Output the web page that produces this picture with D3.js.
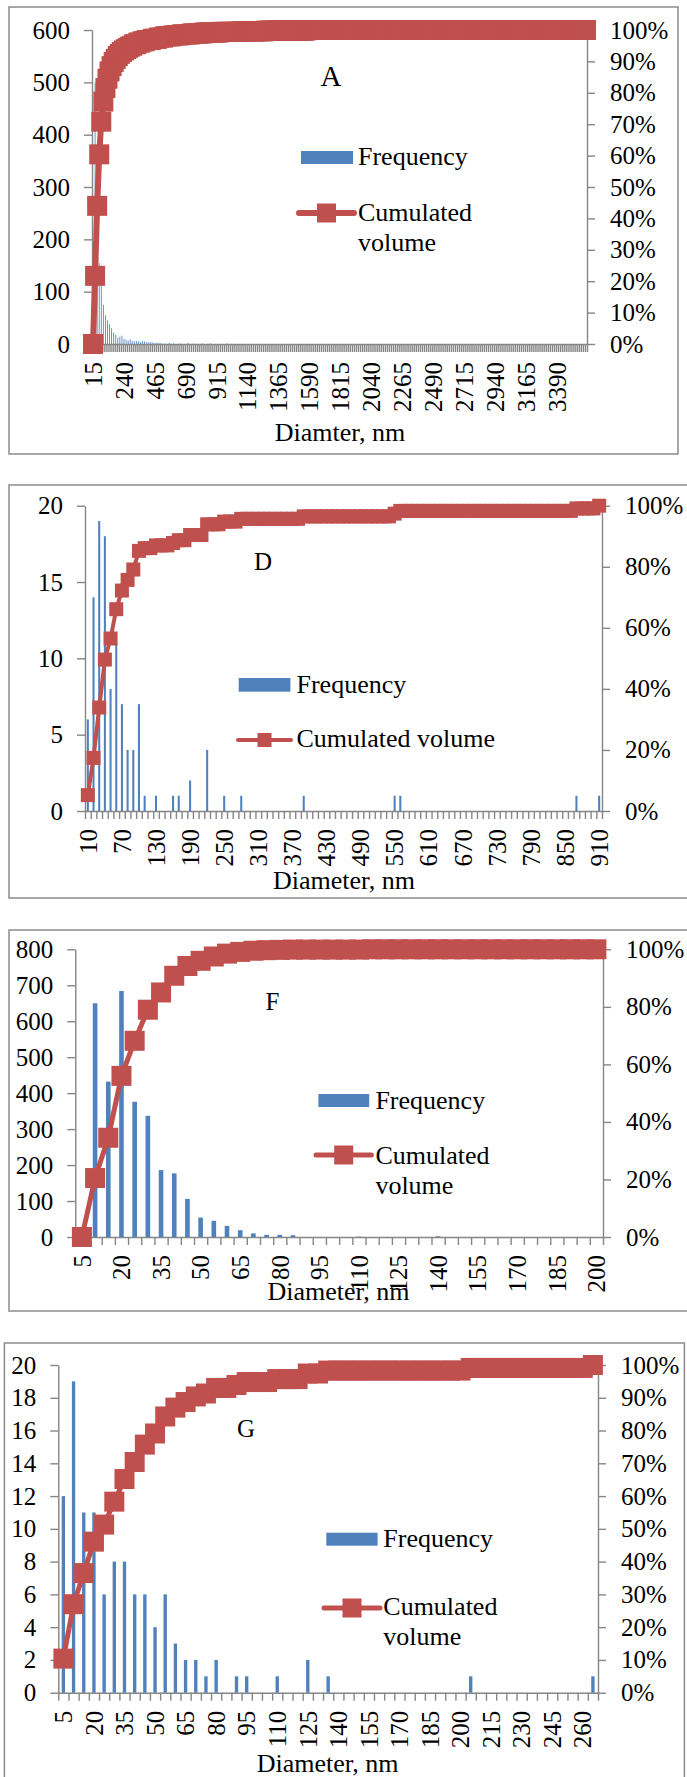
<!DOCTYPE html>
<html>
<head>
<meta charset="utf-8">
<script src="https://cdn.jsdelivr.net/npm/d3@7"></script>
<style>
    body { margin: 0; background: #fff; }
    svg { display: block; }
</style>
</head>
<body>
<svg id="chart" width="687" height="1777" font-family="Liberation Serif, Times New Roman, serif"></svg>
<script>
// ---- data ----
// categories (bin diameters, nm)
const catA = d3.range(15, 3601, 15);
const catD = d3.range(10, 911, 10);
const catF = d3.range(5, 201, 5);
const catG = d3.range(5, 266, 5);

// frequency: [diameter, count], bins not listed are 0
const freqA = [[30, 500], [45, 224], [60, 155], [75, 150], [90, 75], [105, 55], [120, 45], [135, 38],
    [150, 30], [165, 22], [180, 18], [195, 12], [210, 14], [225, 16], [240, 10], [255, 8], [270, 7],
    [285, 9], [300, 6], [315, 5], [330, 6], [345, 5], [360, 4], [375, 6], [390, 5], [405, 4], [420, 3],
    [435, 4], [450, 3], [465, 2], [480, 3], [495, 2], [510, 2], [540, 1], [570, 2], [600, 1], [645, 1],
    [705, 2], [750, 1], [810, 1], [870, 1], [990, 1]];
const freqD = [[10, 6], [20, 14], [30, 19], [40, 18], [50, 8], [60, 11], [70, 7], [80, 4], [90, 4],
    [100, 7], [110, 1], [130, 1], [160, 1], [170, 1], [190, 2], [220, 4], [250, 1], [280, 1],
    [390, 1], [550, 1], [560, 1], [870, 1], [910, 1]];
const freqF = [[10, 650], [15, 432], [20, 684], [25, 376], [30, 337], [35, 186], [40, 177], [45, 106],
    [50, 54], [55, 45], [60, 31], [65, 19], [70, 10], [75, 6], [80, 6], [85, 5], [110, 1], [140, 2]];
const freqG = [[5, 12], [10, 19], [15, 11], [20, 11], [25, 6], [30, 8], [35, 8], [40, 6], [45, 6],
    [50, 4], [55, 6], [60, 3], [65, 2], [70, 2], [75, 1], [80, 2], [90, 1], [95, 1], [110, 1],
    [125, 2], [135, 1], [205, 1], [265, 1]];

// cumulated volume (%): runs of [value, number of bins]
const cumA = [[0, 1], [21.7, 1], [44, 1], [60.4, 1], [70.8, 1], [77.2, 1], [81.5, 1], [84.5, 1],
    [86.8, 1], [88.5, 1], [89.8, 1], [90.8, 1], [91.7, 1], [92.4, 1], [93, 1], [93.5, 1], [93.9, 1],
    [94.3, 1], [94.7, 1], [95, 1], [95.5, 2], [96, 2], [96.4, 2], [96.8, 3], [97.2, 3], [97.6, 3],
    [98, 4], [98.3, 4], [98.6, 5], [98.9, 6], [99.2, 8], [99.4, 10], [99.6, 12], [99.8, 20], [100, 136]];
const cumD = [[5.2, 1], [17.4, 1], [33.9, 1], [49.6, 1], [56.5, 1], [66.1, 1], [72.2, 1], [75.7, 1],
    [79.1, 1], [85.2, 1], [86.1, 2], [87, 3], [87.8, 1], [88.7, 2], [90.4, 3], [93.9, 3], [94.8, 3],
    [95.7, 11], [96.5, 16], [97.4, 1], [98.3, 31], [99.1, 4], [100, 1]];
const cumF = [[0, 1], [20.5, 1], [34.5, 1], [56, 1], [68.2, 1], [79, 1], [85, 1], [90.8, 1], [94.2, 1],
    [96, 1], [97.5, 1], [98.5, 1], [99.1, 1], [99.5, 1], [99.7, 1], [99.8, 1], [99.9, 6], [100, 18]];
const cumG = [[10.4, 1], [27, 1], [36.5, 1], [46.1, 1], [51.3, 1], [58.3, 1], [65.2, 1], [70.4, 1],
    [75.7, 1], [79.1, 1], [84.3, 1], [87, 1], [88.7, 1], [90.4, 1], [91.3, 1], [93, 2], [93.9, 1],
    [94.8, 3], [95.7, 3], [97.4, 2], [98.3, 14], [99.1, 12], [100, 1]];

const BLUE = '#4F81BD';
const RED = '#C0504D';
const AXIS = '#868686';
const FONT = 'Liberation Serif, Times New Roman, serif';

const svg = d3.select('#chart');

// turn the run list back into one value per bin
function expand(runs) {
    return runs.flatMap(([v, n]) => Array(n).fill(v));
}

function drawPanel(p) {
    let g = svg.append('g').attr('font-family', FONT);

    // outer frame
    g.append('rect')
        .attr('x', p.frame[0]).attr('y', p.frame[1])
        .attr('width', p.frame[2]).attr('height', p.frame[3])
        .attr('fill', 'none').attr('stroke', '#8c8c8c').attr('stroke-width', 1.5);

    let x = d3.scaleBand().domain(p.cats).range([p.left, p.right]);
    let xIdx = d3.scaleLinear().domain([0, p.cats.length]).range([p.left, p.right]);
    let y = d3.scaleLinear().domain([0, p.yMax]).range([p.bottom, p.top]);
    let yPct = d3.scaleLinear().domain([0, 100]).range([p.bottom, p.top]);

    // left axis
    let left = g.append('g').attr('transform', `translate(${p.left},0)`)
        .call(d3.axisLeft(y).tickValues(d3.range(0, p.yMax + 1, p.yStep))
            .tickSize(8).tickSizeOuter(0).tickPadding(14));
    // right axis
    let right = g.append('g').attr('transform', `translate(${p.right},0)`)
        .call(d3.axisRight(yPct).tickValues(d3.range(0, 101, p.pctStep))
            .tickFormat(d => d + '%').tickSize(8).tickSizeOuter(0).tickPadding(15));
    // bottom: tick marks between every bin
    let ticks = g.append('g').attr('transform', `translate(0,${p.bottom})`)
        .call(d3.axisBottom(xIdx).tickValues(d3.range(p.cats.length + 1))
            .tickFormat('').tickSize(8).tickSizeOuter(0));
    // bottom: rotated labels every few bins
    let labels = g.append('g').attr('transform', `translate(0,${p.bottom})`)
        .call(d3.axisBottom(x).tickValues(p.cats.filter((c, i) => i % p.labelEvery === 0))
            .tickSize(0).tickSizeOuter(0));
    labels.select('.domain').remove();
    labels.selectAll('text')
        .attr('y', 0).attr('x', -18).attr('dy', '0.35em')
        .attr('transform', 'rotate(-90)')
        .style('text-anchor', 'end');

    for (let a of [left, right, ticks, labels]) {
        a.attr('font-family', FONT).attr('font-size', 25);
        a.selectAll('path, line').attr('stroke', AXIS).attr('stroke-width', 1.4);
        a.selectAll('text').attr('fill', '#000');
    }

    // frequency bars
    let freq = new Map(p.freq);
    let bw = x.bandwidth() * p.barFrac;
    g.append('g').selectAll('rect')
        .data(p.cats.filter(c => freq.get(c) > 0))
        .join('rect')
        .attr('x', c => x(c) + x.bandwidth() / 2 - bw / 2)
        .attr('width', bw)
        .attr('y', c => y(freq.get(c)))
        .attr('height', c => y(0) - y(freq.get(c)))
        .attr('fill', BLUE);

    // cumulated volume line + square markers
    let cum = expand(p.cum).map((v, i) => ({ cat: p.cats[i], v: v }));
    let cx = d => x(d.cat) + x.bandwidth() / 2;
    g.append('path')
        .datum(cum)
        .attr('d', d3.line().x(cx).y(d => yPct(d.v)))
        .attr('fill', 'none').attr('stroke', RED)
        .attr('stroke-width', p.lineW).attr('stroke-linejoin', 'round');
    g.append('g').selectAll('rect')
        .data(cum)
        .join('rect')
        .attr('x', d => cx(d) - p.mark / 2)
        .attr('y', d => yPct(d.v) - p.mark / 2)
        .attr('width', p.mark).attr('height', p.mark)
        .attr('fill', RED);

    // panel letter
    g.append('text').attr('x', p.letter[0]).attr('y', p.letter[1])
        .attr('text-anchor', 'middle').attr('font-size', p.letterSize).text(p.name);

    // axis title
    g.append('text').attr('x', p.title[0]).attr('y', p.title[1])
        .attr('text-anchor', 'middle').attr('font-size', 26).text(p.titleText);

    // legend
    let lg = p.legend;
    g.append('rect').attr('x', lg.sw[0]).attr('y', lg.sw[1])
        .attr('width', lg.sw[2]).attr('height', lg.sw[3]).attr('fill', BLUE);
    g.append('text').attr('x', lg.tx).attr('y', lg.freqY)
        .attr('font-size', 26).text('Frequency');
    g.append('line').attr('x1', lg.line[0]).attr('x2', lg.line[1])
        .attr('y1', lg.line[2]).attr('y2', lg.line[2])
        .attr('stroke', RED).attr('stroke-width', p.lineW).attr('stroke-linecap', 'round');
    let mx = (lg.line[0] + lg.line[1]) / 2;
    g.append('rect').attr('x', mx - lg.mark / 2).attr('y', lg.line[2] - lg.mark / 2)
        .attr('width', lg.mark).attr('height', lg.mark).attr('fill', RED);
    lg.cumLines.forEach((t, i) => {
        g.append('text').attr('x', lg.tx).attr('y', lg.cumY + i * 30)
            .attr('font-size', 26).text(t);
    });
}

drawPanel({
    name: 'A', cats: catA, freq: freqA, cum: cumA,
    frame: [9, 7, 669, 447],
    left: 92, right: 587, top: 30, bottom: 344,
    yMax: 600, yStep: 100, pctStep: 10, labelEvery: 15,
    barFrac: 0.4, lineW: 6, mark: 20,
    letter: [331, 86], letterSize: 29,
    title: [340, 441], titleText: 'Diamter, nm',
    legend: { sw: [301, 151, 52, 13], tx: 358, freqY: 165, line: [299, 354, 213], mark: 19,
        cumY: 221, cumLines: ['Cumulated', 'volume'] }
});

drawPanel({
    name: 'D', cats: catD, freq: freqD, cum: cumD,
    frame: [9, 485, 690, 413],
    left: 85, right: 602, top: 505.7, bottom: 811,
    yMax: 20, yStep: 5, pctStep: 20, labelEvery: 6,
    barFrac: 0.36, lineW: 4, mark: 14,
    letter: [263, 570], letterSize: 25,
    title: [344, 889], titleText: 'Diameter, nm',
    legend: { sw: [238.7, 678, 51.7, 13.7], tx: 296.5, freqY: 693, line: [238, 291, 740], mark: 14,
        cumY: 747, cumLines: ['Cumulated volume'] }
});

drawPanel({
    name: 'F', cats: catF, freq: freqF, cum: cumF,
    frame: [9, 930, 690, 381],
    left: 75.3, right: 603, top: 949.3, bottom: 1237,
    yMax: 800, yStep: 100, pctStep: 20, labelEvery: 3,
    barFrac: 0.35, lineW: 5, mark: 20,
    letter: [272.5, 1010], letterSize: 25,
    title: [338.5, 1300], titleText: 'Diameter, nm',
    legend: { sw: [318.4, 1094, 50.8, 13], tx: 375.4, freqY: 1109, line: [316, 371.4, 1155], mark: 19,
        cumY: 1164, cumLines: ['Cumulated', 'volume'] }
});

drawPanel({
    name: 'G', cats: catG, freq: freqG, cum: cumG,
    frame: [4.4, 1343, 680, 500],
    left: 58.3, right: 598, top: 1365, bottom: 1692.7,
    yMax: 20, yStep: 2, pctStep: 10, labelEvery: 3,
    barFrac: 0.33, lineW: 5, mark: 20,
    letter: [246, 1437], letterSize: 25,
    title: [327.6, 1772], titleText: 'Diameter, nm',
    legend: { sw: [326.3, 1532.7, 51.3, 13], tx: 383.3, freqY: 1547, line: [324, 380, 1608], mark: 19,
        cumY: 1615, cumLines: ['Cumulated', 'volume'] }
});
</script>
</body>
</html>
